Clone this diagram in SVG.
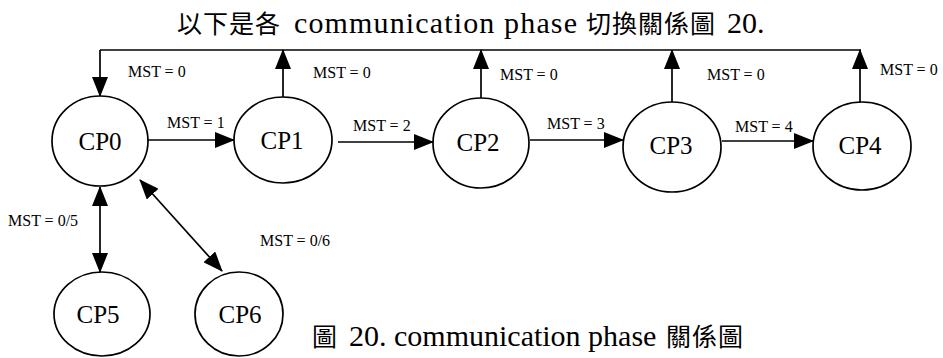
<svg xmlns="http://www.w3.org/2000/svg" width="943" height="358" viewBox="0 0 943 358">
  <style>
    .node ellipse { fill: #ffffff; stroke: #000000; stroke-width: 1.7; }
    .node text { font-size: 25px; fill: #000000; text-anchor: middle; }
    .edge { fill: none; stroke: #000000; stroke-width: 1.7; }
    .lbl { font-size: 16px; fill: #000000; }
    .lat { font-size: 30px; fill: #000000; }
    .cjk { font-family: "Noto Sans CJK TC", "Noto Sans CJK SC", sans-serif; font-size: 25px; fill: #000000; }
  </style>
  <defs>
    <marker id="arrow" viewBox="0 0 20 16" refX="19" refY="8" markerWidth="20" markerHeight="16" markerUnits="userSpaceOnUse" orient="auto-start-reverse">
      <path d="M0,0 L20,8 L0,16 z" fill="#000000"/>
    </marker>
  </defs>
  <rect width="943" height="358" fill="#ffffff"/>

  <g font-family="Liberation Serif, Times New Roman, DejaVu Serif, serif">
  <!-- heading -->
  <text id="title" y="33">
    <tspan class="cjk" x="177" letter-spacing="1">以下是各</tspan>
    <tspan class="lat" x="294" textLength="283" lengthAdjust="spacing">communication phase</tspan>
    <tspan class="cjk" x="586" letter-spacing="1">切換關係圖</tspan>
    <tspan class="lat" x="727" font-size="28">20.</tspan>
  </text>

  <!-- connectors -->
  <g id="connectors">
    <!-- shared return bus along the top -->
    <path class="edge" d="M100,50 H861"/>
    <path class="edge" d="M100,50 V96" marker-end="url(#arrow)"/>
    <path class="edge" d="M283,97 V50" marker-end="url(#arrow)"/>
    <path class="edge" d="M481,98 V50" marker-end="url(#arrow)"/>
    <path class="edge" d="M672,102 V50" marker-end="url(#arrow)"/>
    <path class="edge" d="M860,102 V50" marker-end="url(#arrow)"/>
    <!-- forward chain -->
    <path class="edge" d="M148,140 H234" marker-end="url(#arrow)"/>
    <path class="edge" d="M338,142 H433" marker-end="url(#arrow)"/>
    <path class="edge" d="M530,140 H623" marker-end="url(#arrow)"/>
    <path class="edge" d="M722,141 H813" marker-end="url(#arrow)"/>
    <!-- two-way links below CP0 -->
    <path class="edge" d="M100,187 V272" marker-start="url(#arrow)" marker-end="url(#arrow)"/>
    <path class="edge" d="M140,180 L222,271" marker-start="url(#arrow)" marker-end="url(#arrow)"/>

    <text class="lbl" x="128" y="77">MST = 0</text>
    <text class="lbl" x="313" y="78">MST = 0</text>
    <text class="lbl" x="500" y="80">MST = 0</text>
    <text class="lbl" x="707" y="80">MST = 0</text>
    <text class="lbl" x="880" y="75">MST = 0</text>
    <text class="lbl" x="167" y="128">MST = 1</text>
    <text class="lbl" x="353" y="131">MST = 2</text>
    <text class="lbl" x="547" y="129">MST = 3</text>
    <text class="lbl" x="735" y="132">MST = 4</text>
    <text class="lbl" x="8" y="226">MST = 0/5</text>
    <text class="lbl" x="260" y="246">MST = 0/6</text>
  </g>

  <!-- states -->
  <g id="CP0" class="node"><ellipse cx="100" cy="141" rx="48" ry="45"/><text x="100" y="150">CP0</text></g>
  <g id="CP1" class="node"><ellipse cx="283" cy="140" rx="49" ry="43"/><text x="282" y="149">CP1</text></g>
  <g id="CP2" class="node"><ellipse cx="481" cy="143" rx="48" ry="45"/><text x="478" y="151">CP2</text></g>
  <g id="CP3" class="node"><ellipse cx="672" cy="147" rx="49" ry="45"/><text x="671" y="154">CP3</text></g>
  <g id="CP4" class="node"><ellipse cx="862" cy="146" rx="49" ry="44"/><text x="860" y="154">CP4</text></g>
  <g id="CP5" class="node"><ellipse cx="102" cy="314" rx="48" ry="42"/><text x="98" y="323">CP5</text></g>
  <g id="CP6" class="node"><ellipse cx="239" cy="314" rx="44" ry="42"/><text x="240" y="323">CP6</text></g>

  <!-- caption -->
  <text id="caption" y="346">
    <tspan class="cjk" x="312">圖</tspan>
    <tspan class="lat" x="349">20. communication phase</tspan>
    <tspan class="cjk" x="666" letter-spacing="1">關係圖</tspan>
  </text>
  </g>
</svg>
